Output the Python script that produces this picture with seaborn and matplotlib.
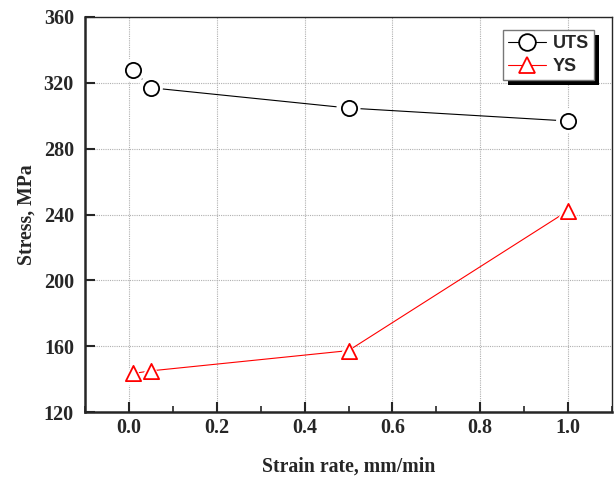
import matplotlib
matplotlib.use("Agg")
import matplotlib.pyplot as plt
import seaborn as sns
import pandas as pd
from matplotlib.ticker import MultipleLocator, FormatStrFormatter
from matplotlib.patches import Rectangle

# Strain rate (mm/min) and measured strengths (MPa)
strain_rate = [0.01, 0.05, 0.5, 1.0]
uts = [327.6, 317.0, 304.7, 296.8]
ys = [143.4, 145.0, 157.3, 242.3]

df = pd.DataFrame({"rate": strain_rate, "UTS": uts, "YS": ys})

sns.set_style("ticks")
plt.rcParams["font.family"] = ["Liberation Serif", "DejaVu Serif"]

fig = plt.figure(figsize=(6.16, 4.83), dpi=100)
ax = fig.add_axes([85 / 616, 71 / 483, 527 / 616, 395 / 483])

series = [("UTS", "black", "o"), ("YS", "red", "^")]
for name, color, marker in series:
    # connecting line
    sns.lineplot(data=df, x="rate", y=name, ax=ax, color=color, lw=0.8,
                 zorder=2, legend=False)
    # white halo so the line stops short of each symbol
    sns.scatterplot(data=df, x="rate", y=name, ax=ax, marker=marker,
                    s=300, color="white", edgecolor="none", zorder=3,
                    legend=False)
    # hollow symbols
    sns.scatterplot(data=df, x="rate", y=name, ax=ax, marker=marker,
                    s=120, facecolor="white", edgecolor=color, linewidth=1.3,
                    zorder=4, legend=False)

ax.set_xlim(-0.1, 1.1)
ax.set_ylim(120, 360)
ax.xaxis.set_major_locator(MultipleLocator(0.2))
ax.xaxis.set_minor_locator(MultipleLocator(0.1))
ax.yaxis.set_major_locator(MultipleLocator(40))
ax.xaxis.set_major_formatter(FormatStrFormatter("%.1f"))

ax.grid(True, which="major", color="#b0b0b0", linestyle=(0, (1, 1)), lw=0.8)
ax.set_axisbelow(True)

ax.tick_params(which="both", direction="in", top=False, right=False)
ax.tick_params(which="major", length=7, width=1.5, labelsize=14.5)
ax.tick_params(axis="x", which="major", pad=4)
ax.tick_params(axis="y", which="major", pad=8)
ax.tick_params(which="minor", length=4, width=1.2)
for lbl in ax.get_xticklabels() + ax.get_yticklabels():
    lbl.set_fontweight("bold")

for side in ["left", "bottom"]:
    ax.spines[side].set_linewidth(1.8)
for side in ["top", "right"]:
    ax.spines[side].set_linewidth(1.0)
    ax.spines[side].set_visible(True)

ax.set_xlabel("Strain rate, mm/min", fontsize=14.2, fontweight="bold", labelpad=14)
ax.set_ylabel("Stress, MPa", fontsize=14.2, fontweight="bold", labelpad=5)

handles = [
    plt.Line2D([], [], color=c, lw=0.8, marker=m, markersize=12,
               markerfacecolor="white", markeredgecolor=c, markeredgewidth=1.3)
    for _, c, m in series
]
leg = ax.legend(handles, [s[0] for s in series], loc="upper right",
                bbox_to_anchor=(0.966, 0.967), frameon=True, fancybox=False,
                prop={"family": "Liberation Sans", "weight": "bold", "size": 13},
                handlelength=2.1, handletextpad=0.35, borderpad=0.3,
                labelspacing=0.3, borderaxespad=0)
leg.get_frame().set_edgecolor("#777777")
leg.get_frame().set_linewidth(1.0)
leg.get_frame().set_alpha(1.0)
leg.set_zorder(6)

# solid drop shadow behind the legend box
fig.canvas.draw()
bb = leg.get_frame().get_window_extent()
shadow = Rectangle((bb.x0 + 5, bb.y0 - 5), bb.width, bb.height,
                   transform=None, facecolor="black", edgecolor="none",
                   zorder=5.5)
ax.add_artist(shadow)

fig.savefig("out.png", dpi=100)
